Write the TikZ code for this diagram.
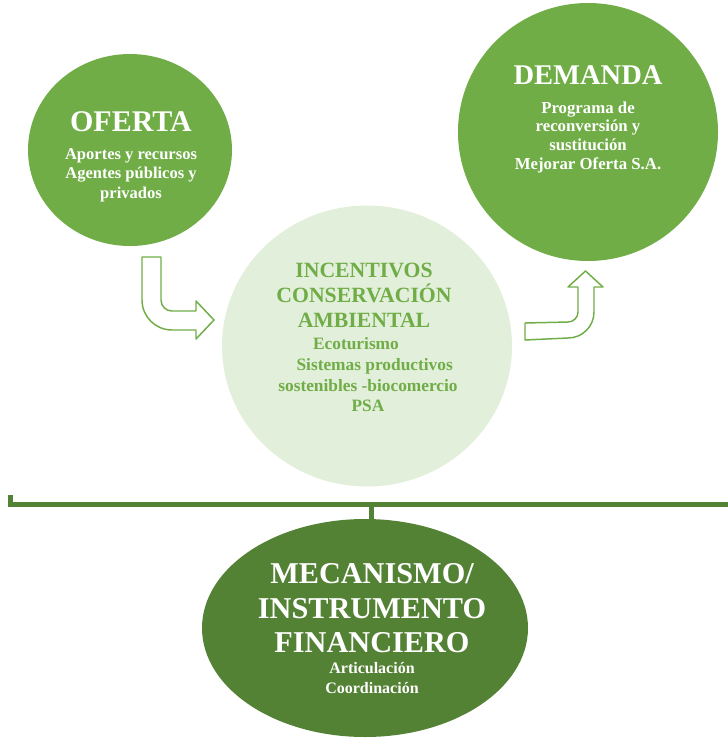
\documentclass[tikz,border=0pt]{standalone}
\usepackage{fontspec}
\setmainfont{Liberation Serif}
\usetikzlibrary{shapes.geometric}
\definecolor{midgreen}{HTML}{70AD47}
\definecolor{palegreen}{HTML}{E2EFDA}
\definecolor{darkgreen}{HTML}{548235}
\tikzset{
  bubble/.style={ellipse, draw=none, inner sep=0pt},
  wtext/.style={text=white, font=\bfseries, align=center, inner sep=0pt},
  gtext/.style={text=midgreen, font=\bfseries, align=center, inner sep=0pt},
  blockarrow/.style={draw=midgreen, fill=white, line width=1.1pt, line join=round},
  barline/.style={draw=darkgreen, line width=3.75pt}
}
\begin{document}
\begin{tikzpicture}[x=0.75pt, y=-0.75pt]
\useasboundingbox (0,0) rectangle (728,739);

% bubbles
\node[bubble, fill=midgreen, minimum width=0.75pt*204, minimum height=0.75pt*192] (ofe) at (130,150) {};
\node[bubble, fill=palegreen, minimum width=0.75pt*290, minimum height=0.75pt*281] (inc) at (367,346) {};
\node[bubble, fill=midgreen, minimum width=0.75pt*260, minimum height=0.75pt*258] (dem) at (588,132) {};
\node[bubble, fill=darkgreen, minimum width=0.75pt*326, minimum height=0.75pt*218] (mec) at (365,628) {};

% texts
\node[wtext, font=\bfseries\fontsize{22.5pt}{24pt}\selectfont] (ofeT) at (131,122) {OFERTA};
\node[wtext, font=\bfseries\fontsize{12.4pt}{14.6pt}\selectfont] (ofeB) at (131,175) {Aportes y recursos\\Agentes públicos y\\privados};

\node[wtext, font=\bfseries\fontsize{21.4pt}{23pt}\selectfont] (demT) at (588,75) {DEMANDA};
\node[wtext, font=\bfseries\fontsize{12.6pt}{14pt}\selectfont] (demB) at (588,137) {Programa de\\reconversión y\\sustitución\\Mejorar Oferta S.A.};

\node[gtext, font=\bfseries\fontsize{16.3pt}{18.75pt}\selectfont] (incT) at (364,295) {INCENTIVOS\\CONSERVACIÓN\\AMBIENTAL};
\node[gtext, font=\bfseries\fontsize{13pt}{15.5pt}\selectfont] (incB) at (368,375) {Ecoturismo\hspace*{18pt}\\\hspace*{10pt}Sistemas productivos\\sostenibles -biocomercio\\PSA};

\node[wtext, font=\bfseries\fontsize{22.7pt}{25.9pt}\selectfont] (mecT) at (372,608.5) {MECANISMO/\\INSTRUMENTO\\FINANCIERO};
\node[wtext, font=\bfseries\fontsize{12pt}{15pt}\selectfont] (mecB) at (372,678.5) {Articulación\\Coordinación};

% block arrows
\draw[blockarrow] (142,257) -- (142,300) .. controls (142,316.6) and (155.4,330) .. (172,330)
  -- (196,330) -- (196,339) -- (214,320) -- (196,301) -- (196,311) -- (172,311)
  .. controls (165.9,311) and (161,306.1) .. (161,300) -- (161,257) -- cycle;
\draw[blockarrow] (525,323) -- (568,322) .. controls (573.5,322) and (578,317.5) .. (578,312)
  -- (578,287) -- (568,287) -- (585.5,271) -- (603,287) -- (594,287) -- (594,312)
  .. controls (594,326.4) and (582.4,338) .. (568,338) -- (525,340) -- cycle;

% bracket
\coordinate (bl) at (10,495);
\coordinate (bc) at (10,504.5);
\coordinate (br) at (731,504.5);
\coordinate (stem) at (371,504.5);
\draw[barline, line cap=butt] (bl) -- (bc) -- (br);
\draw[barline] (stem) -- (stem |- mec.north);
\end{tikzpicture}
\end{document}
